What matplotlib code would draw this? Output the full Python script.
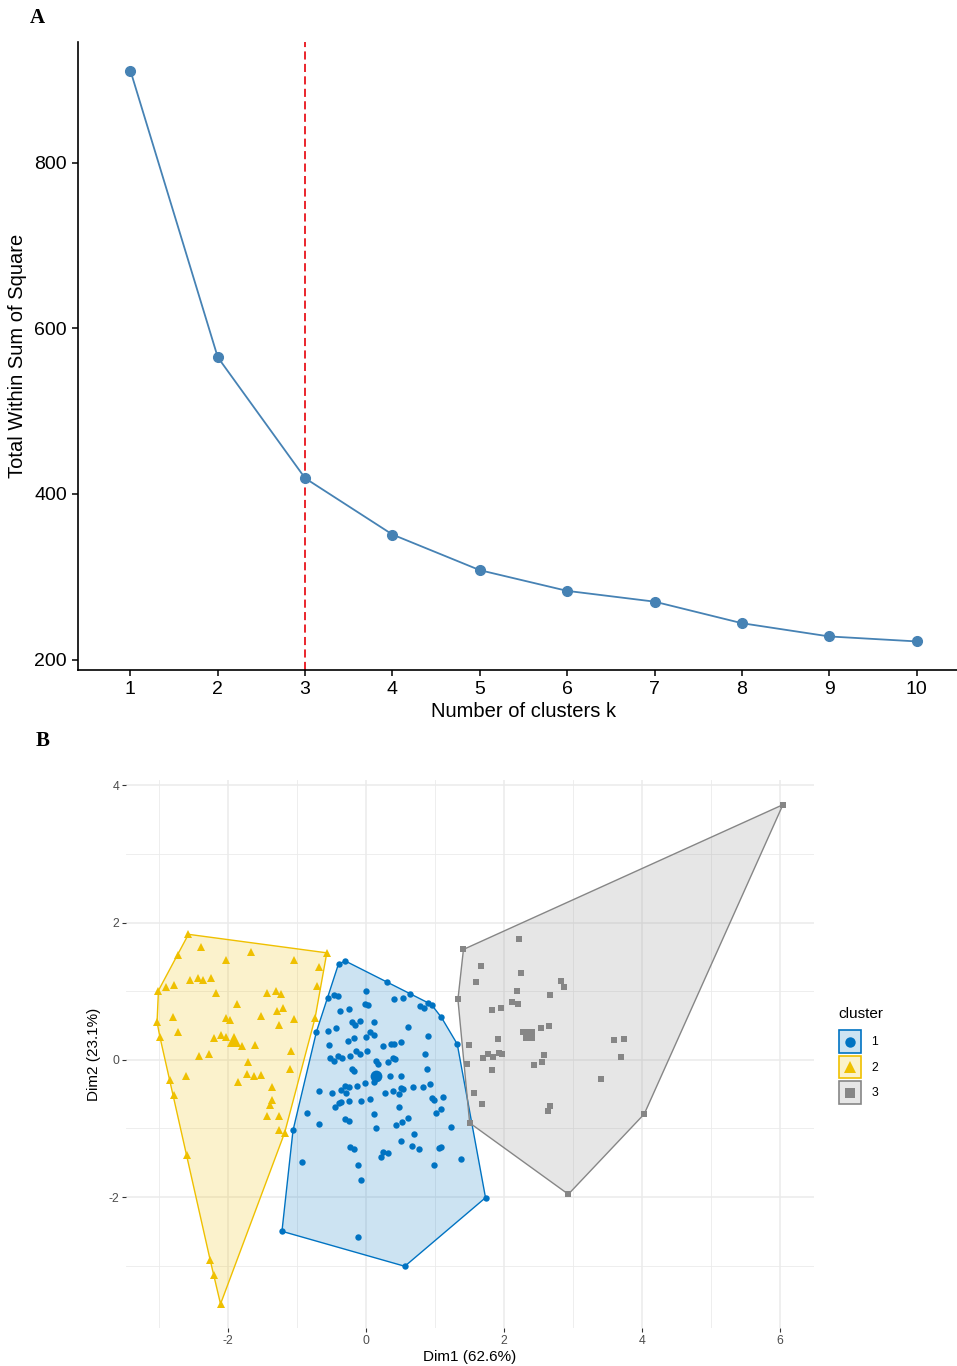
import numpy as np
import matplotlib
matplotlib.use("Agg")
import matplotlib.pyplot as plt
from matplotlib.patches import Polygon, Rectangle
from matplotlib.lines import Line2D
from matplotlib.colors import to_rgba

plt.rcParams['font.family'] = ['Liberation Sans', 'DejaVu Sans']
plt.rcParams['axes.unicode_minus'] = False

# ---------------- Panel A data ----------------
k_values = [1, 2, 3, 4, 5, 6, 7, 8, 9, 10]
wss = [911, 565, 419, 351, 308, 283, 270, 244, 228, 222]
optimal_k = 3

# ---------------- Panel B data ----------------
cluster1_x = [-0.40, -0.30, 0.30, 0.64, 0.90, 0.95, 1.09, 1.32, 0.78, 0.84, -0.56, -0.46, -0.41,
              0.00, 0.41, 0.54, -0.01, 0.02, -0.38, -0.25, -0.21, -0.16, -0.09, 0.12, 0.60, -0.72,
              -0.56, -0.44, -0.27, -0.17, 0.00, 0.06, 0.12, -0.54, -0.14, -0.09, 0.01, 0.25, 0.36,
              0.40, 0.50, 0.90, -0.52, -0.46, -0.41, -0.35, -0.23, 0.14, 0.17, 0.31, 0.39, 0.42,
              0.85, -0.21, -0.17, 0.34, 0.51, 0.88,
              -0.69, -0.50, -0.36, -0.30, -0.25, -0.29, -0.13, -0.01, 0.12, 0.28, 0.39, 0.48, 0.51,
              0.54, 0.68, 0.83, 0.93, 0.95, 0.99, 1.12, 1.01, 1.08, -0.86, -0.68, -1.06, -0.45,
              -0.39, -0.37, -0.25, -0.08, 0.05, 0.48, 0.12, -0.31, -0.25, 0.14, 0.43, 0.52, 0.60,
              0.69, 1.23, 0.51, 0.66, 0.76, 1.06, 1.08, -0.24, -0.18, 0.25, 0.31, 0.22, -0.93,
              -0.12, 0.98, 1.38, -0.07, 1.73, -1.22, -0.12, 0.56]
cluster1_y = [1.40, 1.44, 1.13, 0.96, 0.83, 0.80, 0.62, 0.23, 0.78, 0.76, 0.90, 0.94, 0.93,
              1.00, 0.88, 0.90, 0.82, 0.80, 0.71, 0.74, 0.55, 0.51, 0.56, 0.55, 0.48, 0.41,
              0.42, 0.46, 0.28, 0.32, 0.33, 0.40, 0.36, 0.22, 0.13, 0.08, 0.13, 0.20, 0.23,
              0.23, 0.26, 0.35, 0.02, -0.01, 0.06, 0.02, 0.06, -0.02, -0.06, -0.03, 0.03, 0.01,
              0.08, -0.14, -0.16, -0.23, -0.23, -0.13,
              -0.46, -0.48, -0.44, -0.38, -0.40, -0.49, -0.38, -0.34, -0.32, -0.49, -0.45, -0.50, -0.41,
              -0.43, -0.40, -0.39, -0.35, -0.55, -0.58, -0.54, -0.77, -0.72, -0.77, -0.94, -1.03, -0.69,
              -0.63, -0.62, -0.60, -0.60, -0.57, -0.69, -0.79, -0.86, -0.89, -0.99, -0.95, -0.90, -0.85,
              -1.08, -0.98, -1.18, -1.25, -1.30, -1.28, -1.27, -1.27, -1.30, -1.34, -1.36, -1.42, -1.49,
              -1.53, -1.53, -1.44, -1.75, -2.01, -2.50, -2.59, -3.01]

cluster2_x = [-2.575, -2.39, -2.72, -1.67, -2.03, -1.05, -0.57, -0.69, -2.55, -2.43, -2.36, -2.25,
              -2.90, -2.78, -3.01, -2.17, -1.43, -1.31, -1.23, -0.71, -1.87, -1.29, -1.20, -2.80,
              -2.03, -1.98, -1.53, -1.05, -0.74, -3.03, -2.73, -1.27, -2.99, -2.21, -2.10, -2.03,
              -1.80, -1.61, -1.09, -2.42, -2.27, -1.71, -2.61, -1.72, -1.63, -1.53, -1.10, -2.84,
              -1.85, -1.36, -2.79, -1.37, -1.39, -1.44, -1.27, -1.27, -1.18, -2.60, -2.26, -2.20,
              -2.11]
cluster2_y = [1.83, 1.65, 1.53, 1.57, 1.46, 1.46, 1.56, 1.35, 1.16, 1.20, 1.16, 1.20,
              1.06, 1.09, 1.01, 0.98, 0.97, 1.01, 0.96, 1.07, 0.82, 0.71, 0.75, 0.62,
              0.61, 0.58, 0.64, 0.59, 0.61, 0.55, 0.40, 0.51, 0.34, 0.32, 0.36, 0.33,
              0.20, 0.21, 0.13, 0.05, 0.08, -0.03, -0.23, -0.21, -0.24, -0.22, -0.14, -0.30,
              -0.33, -0.40, -0.52, -0.59, -0.66, -0.82, -0.82, -1.03, -1.06, -1.39, -2.92, -3.13,
              -3.56]

cluster3_x = [1.41, 2.21, 1.67, 1.59, 2.24, 2.83, 2.86, 2.18, 2.67, 1.33, 2.12, 2.20, 1.82, 1.95,
              2.27, 2.33, 2.53, 2.65, 3.59, 3.74, 3.69, 1.91, 1.49, 1.77, 1.70, 1.84, 1.93, 1.97,
              1.46, 2.58, 2.55, 2.43, 1.83, 3.40, 1.57, 1.68, 2.67, 2.63, 1.50, 4.03, 6.04, 2.93]
cluster3_y = [1.61, 1.76, 1.37, 1.13, 1.26, 1.15, 1.06, 1.01, 0.95, 0.88, 0.85, 0.82, 0.73, 0.75,
              0.40, 0.38, 0.46, 0.49, 0.29, 0.31, 0.04, 0.30, 0.22, 0.09, 0.02, 0.04, 0.10, 0.08,
              -0.06, 0.07, -0.03, -0.07, -0.15, -0.28, -0.49, -0.64, -0.67, -0.74, -0.92, -0.79, 3.72, -1.96]

centroid_x = [0.15, -1.91, 2.36]
centroid_y = [-0.24, 0.29, 0.36]
cluster_labels = ['1', '2', '3']
cluster_colors = ['#0073C2', '#EFC000', '#868686']
cluster_markers = ['o', '^', 's']


def convex_hull(xs, ys):
    pts = sorted(set(zip(xs, ys)))

    def cross(o, a, b):
        return (a[0] - o[0]) * (b[1] - o[1]) - (a[1] - o[1]) * (b[0] - o[0])

    lower = []
    for p in pts:
        while len(lower) >= 2 and cross(lower[-2], lower[-1], p) <= 0:
            lower.pop()
        lower.append(p)
    upper = []
    for p in reversed(pts):
        while len(upper) >= 2 and cross(upper[-2], upper[-1], p) <= 0:
            upper.pop()
        upper.append(p)
    return np.array(lower[:-1] + upper[:-1])


class KeySpec:
    def __init__(self, color, marker):
        self.color = color
        self.marker = marker


class KeyHandler:
    def legend_artist(self, legend, orig_handle, fontsize, handlebox):
        x0 = -handlebox.xdescent
        y0 = -handlebox.ydescent
        w = handlebox.width
        h = handlebox.height
        tr = handlebox.get_transform()
        col = orig_handle.color
        rect = Rectangle((x0 + 0.6, y0 + 0.6), w - 1.2, h - 1.2, facecolor=to_rgba(col, 0.2),
                         edgecolor=col, lw=1.2, transform=tr)
        handlebox.add_artist(rect)
        ms = 8.5 if orig_handle.marker == '^' else (7.5 if orig_handle.marker == 'o' else 7)
        mk = Line2D([x0 + w / 2], [y0 + h / 2], ls='none', marker=orig_handle.marker, color=col,
                    markersize=ms, markeredgewidth=0, transform=tr)
        handlebox.add_artist(mk)
        return rect


W, H = 957, 1366
fig = plt.figure(figsize=(W / 100, H / 100), dpi=100)


def fx(px):
    return px / W


def fy(py):
    return 1 - py / H


# ---------------- Panel A ----------------
axA = fig.add_axes([fx(78), fy(670), (969 - 78) / W, (670 - 42) / H])
axA.plot(k_values, wss, color='#4682B4', lw=1.3, marker='o', markersize=7, zorder=3)
axA.axvline(optimal_k, color='#E8141B', ls=(0, (4.5, 2.4)), lw=1.3, zorder=2)
axA.set_xlim(0.4, 10.6)
axA.set_ylim(187.5, 945.5)
axA.set_xticks(k_values)
axA.set_yticks([200, 400, 600, 800])
for s in ['top', 'right']:
    axA.spines[s].set_visible(False)
for s in ['left', 'bottom']:
    axA.spines[s].set_linewidth(1.2)
axA.tick_params(labelsize=14, length=4, width=1.1, colors='black', pad=4)
axA.set_xlabel('Number of clusters k', fontsize=14.5, labelpad=3)
axA.set_ylabel('Total Within Sum of Square', fontsize=14.5, labelpad=5)

fig.text(fx(37), fy(18), 'A', family=['Liberation Serif', 'DejaVu Serif'], fontweight='bold',
         fontsize=15, ha='center', va='center')
fig.text(fx(43), fy(741), 'B', family=['Liberation Serif', 'DejaVu Serif'], fontweight='bold',
         fontsize=15, ha='center', va='center')

# ---------------- Panel B ----------------
axB = fig.add_axes([fx(126), fy(1328), (814 - 126) / W, (1328 - 780) / H])
axB.set_xlim(-3.48, 6.49)
axB.set_ylim(-3.91, 4.08)
axB.set_xticks([-2, 0, 2, 4, 6])
axB.set_yticks([-2, 0, 2, 4])
axB.set_xticks([-3, -1, 1, 3, 5], minor=True)
axB.set_yticks([-3, -1, 1, 3], minor=True)
axB.grid(True, which='major', color='#EBEBEB', lw=1.1, zorder=0)
axB.grid(True, which='minor', color='#EBEBEB', lw=0.6, zorder=0)
axB.set_axisbelow(True)
for s in axB.spines.values():
    s.set_visible(False)
axB.tick_params(which='major', labelsize=8.8, labelcolor='#4D4D4D', color='#333333',
                length=3, width=0.8, pad=2)
axB.tick_params(which='minor', length=0)
axB.set_xlabel('Dim1 (62.6%)', fontsize=11, labelpad=2)
axB.set_ylabel('Dim2 (23.1%)', fontsize=11, labelpad=5)

clusters = [(cluster1_x, cluster1_y), (cluster2_x, cluster2_y), (cluster3_x, cluster3_y)]
for (xs, ys), col in zip(clusters, cluster_colors):
    hull = convex_hull(xs, ys)
    axB.add_patch(Polygon(hull, closed=True, facecolor=col, alpha=0.2, edgecolor='none', zorder=1))
    axB.add_patch(Polygon(hull, closed=True, facecolor='none', edgecolor=col, lw=1.0, zorder=2))

marker_sizes = {'o': 4.6, '^': 5.4, 's': 4.2}
for (xs, ys), col, mk in zip(clusters, cluster_colors, cluster_markers):
    axB.plot(xs, ys, ls='none', marker=mk, color=col, markersize=marker_sizes[mk],
             markeredgewidth=0, zorder=3)

for cx, cy, col, mk in zip(centroid_x, centroid_y, cluster_colors, cluster_markers):
    axB.plot([cx], [cy], ls='none', marker=mk, color=col, markersize=9.5 if mk == '^' else 8.5,
             markeredgewidth=0, zorder=4)

# legend title placed as text, keys as a title-less legend
fig.text(fx(838), fy(1014), 'cluster', fontsize=11, ha='left', va='center')
handles = [KeySpec(c, m) for c, m in zip(cluster_colors, cluster_markers)]
fs_leg = 8.8
key_pt = 17.5
hl = key_pt / fs_leg
hh = (hl - 0.245) / 0.65
leg = fig.legend(handles, cluster_labels, handler_map={KeySpec: KeyHandler()},
                 loc='upper left', bbox_to_anchor=(fx(835.5), fy(1027)), frameon=False,
                 fontsize=fs_leg, handlelength=hl, handleheight=hh, labelspacing=0.1,
                 handletextpad=0.75, borderpad=0.2, borderaxespad=0)

fig.savefig('out.png', dpi=100)
